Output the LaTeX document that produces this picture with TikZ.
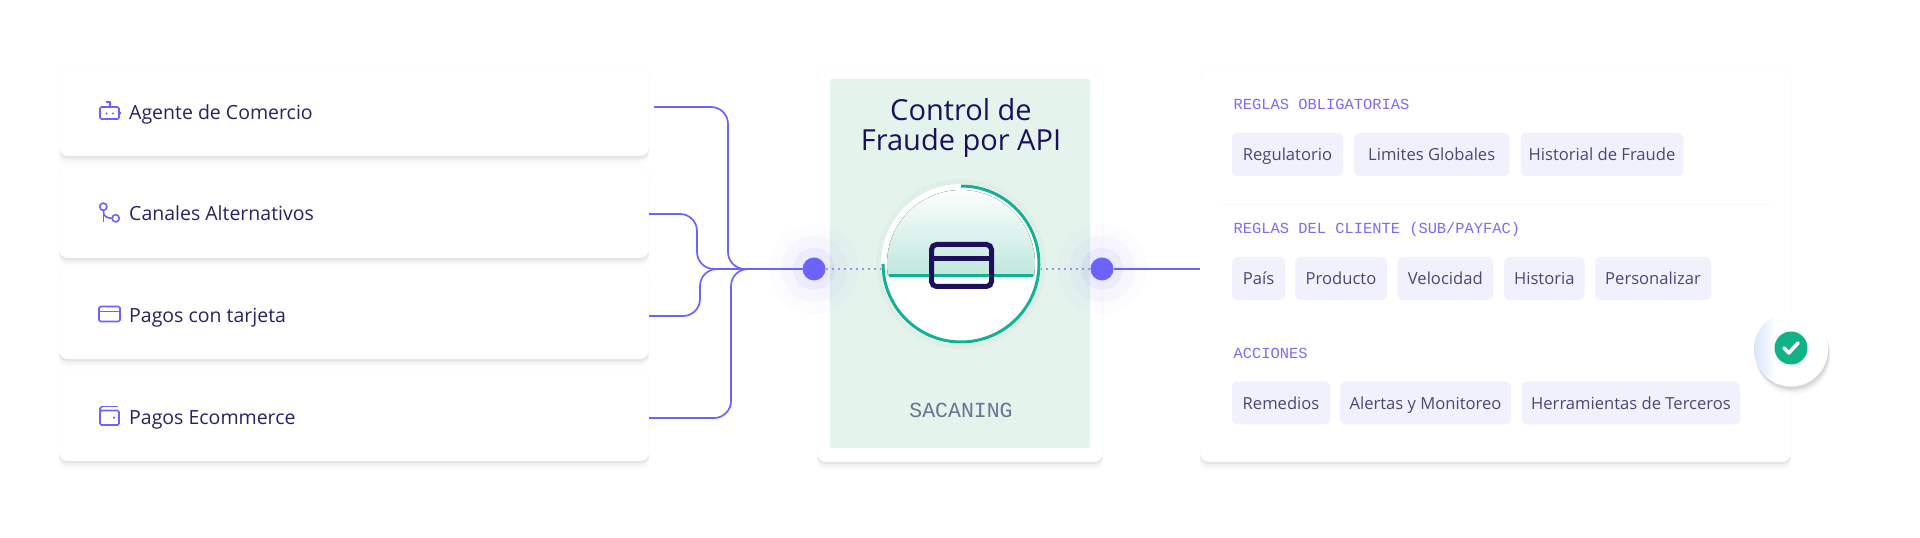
\documentclass[tikz,border=0pt]{standalone}
\usepackage{fontspec}
\setmainfont{Open Sans}
\setmonofont{Liberation Mono}
\usetikzlibrary{shadows, positioning, calc}
\definecolor{inkblue}{HTML}{2A2160}
\definecolor{navyicon}{HTML}{1E0F5C}
\definecolor{softviolet}{HTML}{6C63FF}
\definecolor{labelviolet}{HTML}{7B6CF0}
\definecolor{chipfill}{HTML}{F0F1FC}
\definecolor{chipink}{HTML}{4A4775}
\definecolor{panelmint}{HTML}{E4F3EC}
\definecolor{gaugeteal}{HTML}{10B294}
\definecolor{gaugemint}{HTML}{BEE8DC}
\definecolor{ringmint}{HTML}{DCECE5}
\definecolor{scanink}{HTML}{6B7390}
\definecolor{checkgreen}{HTML}{10B385}
\definecolor{badgeblue}{HTML}{D8E6FA}
\definecolor{hairline}{HTML}{F8F8FB}
\pgfdeclarehorizontalshading{badgefade}{100bp}{color(0bp)=(badgeblue); color(25bp)=(badgeblue); color(40bp)=(white); color(100bp)=(white)}
\begin{document}
\begin{tikzpicture}[
        x=1pt, y=1pt,
        softcard/.style={draw=hairline, fill=white, rounded corners=9pt, inner sep=0pt,
                    general shadow={shadow yshift=-9pt, fill=black, fill opacity=.012},
                    general shadow={shadow yshift=-6pt, fill=black, fill opacity=.02},
                    general shadow={shadow yshift=-4pt, fill=black, fill opacity=.03},
                    general shadow={shadow yshift=-2pt, fill=black, fill opacity=.05}},
        cardtext/.style={anchor=base west, inner sep=0pt, text=inkblue,
                    font=\fontsize{19.5}{24}\selectfont},
        grouplabel/.style={anchor=base west, inner sep=0pt, text=labelviolet,
                    font=\ttfamily\fontsize{15.4}{18}\selectfont},
        chip/.style={fill=chipfill, rounded corners=6pt, inner sep=0pt, minimum height=43pt,
                    text height=14.5pt, text depth=1.5pt, text=chipink,
                    font=\fontsize{16.6}{20}\selectfont},
        icon/.style={draw=softviolet, line width=1.6pt, rounded corners=1.5pt},
        link/.style={draw=softviolet, line width=1.7pt, rounded corners=17pt},
        dotlink/.style={draw=softviolet!70, line width=1.7pt, dash pattern=on 2.5pt off 3.5pt},
        hubdot/.style={circle, fill=softviolet, inner sep=0pt, minimum size=23pt}
      ]
        \useasboundingbox (0,0) rectangle (1920,538);

        \node[softcard, minimum width=590pt, minimum height=91pt] (agente) at (354,427.5) {};
        \node[softcard, minimum width=590pt, minimum height=91pt] (canales) at (354,325.5) {};
        \node[softcard, minimum width=590pt, minimum height=91pt] (tarjeta) at (354,224.5) {};
        \node[softcard, minimum width=590pt, minimum height=91pt] (ecommerce) at (354,122.5) {};

        \node[cardtext] (agentetxt) at (129,418.5) {Agente de Comercio};
        \node[cardtext] (canalestxt) at (129,317) {Canales Alternativos};
        \node[cardtext] (tarjetatxt) at (129,215) {Pagos con tarjeta};
        \node[cardtext] (ecommercetxt) at (129,113.5) {Pagos Ecommerce};

        \draw[icon] (100,419) rectangle (119,431);
        \draw[icon, rounded corners=0pt] (110,431) -- (110,436) -- (105.5,436);
        \draw[icon, rounded corners=0pt] (98.5,425) -- (100,425) (119,425) -- (120.5,425);
        \fill[softviolet] (106.5,424.5) circle[radius=1.2] (113,424.5) circle[radius=1.2];

        \draw[icon] (103.3,331.3) circle[radius=3.6] (115.7,319.7) circle[radius=3.6];
        \draw[icon, rounded corners=0pt] (103.3,327.7) -- (103.3,316.3);
        \draw[icon, rounded corners=0pt] (103.3,327.7) .. controls (103.3,321) and (107,320) .. (112.1,319.7);

        \draw[icon] (99,216.5) rectangle (120,231.5);
        \draw[icon, rounded corners=0pt] (99,226.5) -- (120,226.5);

        \draw[icon] (100,113) rectangle (119,127.5);
        \draw[icon, rounded corners=0pt] (102,131.5) -- (118,131.5);
        \draw[icon, rounded corners=0pt] (100,127) -- (100,129.5) -- (102,131.5);
        \fill[softviolet] (114,120.3) circle[radius=1.2];

        \node[softcard, minimum width=286pt, minimum height=392pt] (fraudcard) at (960,272) {};
        \node[fill=panelmint, rounded corners=2pt, inner sep=0pt, minimum width=260pt,
              minimum height=369pt] (fraudpanel) at (960,274.5) {};
        \node[softcard, minimum width=591pt, minimum height=392pt] (rules) at (1495.5,272) {};

        \node[align=center, inner sep=0pt, text=navyicon,
              font=\fontsize{29}{30}\selectfont] (fraudtitle) at (961,410) {Control de\\Fraude por API};
        \node[inner sep=0pt, text=scanink, font=\ttfamily\fontsize{21.5}{24}\selectfont,
              anchor=base] (scanlabel) at (961,120) {SACANING};

        \node[circle, fill=ringmint, fill opacity=.6, inner sep=0pt, minimum size=170pt] (gaugering) at (961,274) {};
        \node[circle, fill=white, inner sep=0pt, minimum size=160pt] (gauge) at (961,274) {};
        \fill[top color=white, bottom color=gaugemint]
              ($(gauge.center)+(-9.08:74)$) arc[start angle=-9.08, end angle=189.08, radius=74] -- cycle;
        \draw[gaugeteal, line width=3pt] ($(gauge.center)+(90:78)$) arc[start angle=90, end angle=-180, radius=78];
        \draw[gaugeteal, line width=3pt] (889,262) -- (1033,262);
        \draw[navyicon, line width=5pt, rounded corners=5pt] (931.5,251.5) rectangle (991.5,293.5);
        \draw[navyicon, line width=5pt] (931.5,279) -- (991.5,279);

        \coordinate (lefthalo) at (814,269);
        \coordinate (righthalo) at (1102,269);
        \fill[softviolet, opacity=.018] (lefthalo) circle[radius=45] (righthalo) circle[radius=45];
        \fill[softviolet, opacity=.035] (lefthalo) circle[radius=33] (righthalo) circle[radius=33];
        \fill[softviolet, opacity=.07] (lefthalo) circle[radius=21] (righthalo) circle[radius=21];
        \node[hubdot] (lefthub) at (lefthalo) {};
        \node[hubdot] (righthub) at (righthalo) {};

        \draw[link] ([xshift=5pt,yshift=3.5pt]agente.east) -| (728,269) -- (lefthub);
        \draw[link] ([yshift=-1.5pt]canales.east) -| (697,269) -- (lefthub);
        \draw[link] ([yshift=-2.5pt]tarjeta.east) -| (700,269) -- (lefthub);
        \draw[link] ([yshift=-2.5pt]ecommerce.east) -| (731,269) -- (lefthub);
        \draw[dotlink] (lefthub) -- (lefthub -| gauge.west);
        \draw[dotlink] (righthub) -- (righthub -| gauge.east);
        \draw[draw=softviolet, line width=1.7pt] (righthub) -- (righthub -| rules.west);

        \node[grouplabel] (obligatorias) at (1233.5,428) {REGLAS OBLIGATORIAS};
        \node[chip, minimum width=111pt] (regulatorio) at (1287.5,383.5) {Regulatorio};
        \node[chip, minimum width=155.5pt] (limites) at (1431.7,383.5) {Limites Globales\hspace{6pt}};
        \node[chip, minimum width=163pt] (historial) at (1602,383.5) {Historial de Fraude};

        \draw[hairline, line width=1pt] (1220,333) -- (1770,333);

        \node[grouplabel] (cliente) at (1233.5,304) {REGLAS DEL CLIENTE (SUB/PAYFAC)};
        \node[chip, minimum width=53pt] (pais) at (1258.5,259.5) {País};
        \node[chip, minimum width=92pt] (producto) at (1341,259.5) {Producto};
        \node[chip, minimum width=95.4pt] (velocidad) at (1445.3,259.5) {Velocidad};
        \node[chip, minimum width=80.6pt] (historia) at (1544.3,259.5) {Historia};
        \node[chip, minimum width=116pt] (personalizar) at (1653,259.5) {Personalizar};

        \node[grouplabel] (acciones) at (1233.5,179) {ACCIONES};
        \node[chip, minimum width=98pt] (remedios) at (1281,135) {Remedios};
        \node[chip, minimum width=171pt] (alertas) at (1425.5,135) {Alertas y Monitoreo};
        \node[chip, minimum width=218.5pt] (herramientas) at (1631,135) {Herramientas de Terceros};

        \node[circle, inner sep=0pt, minimum size=74pt, shading=badgefade,
              general shadow={shadow xshift=2pt, shadow yshift=-8pt, fill=black, fill opacity=.03},
              general shadow={shadow xshift=2pt, shadow yshift=-5pt, fill=black, fill opacity=.05},
              general shadow={shadow xshift=1pt, shadow yshift=-3pt, fill=black, fill opacity=.08}]
              (badge) at (1791,188.5) {};
        \node[circle, fill=checkgreen, inner sep=0pt, minimum size=33pt] (okmark) at (1791,190) {};
        \draw[white, line width=3.6pt, line cap=round, line join=round]
              (1784,190) -- (1788.8,185) -- (1798,195);
      \end{tikzpicture}
\end{document}
